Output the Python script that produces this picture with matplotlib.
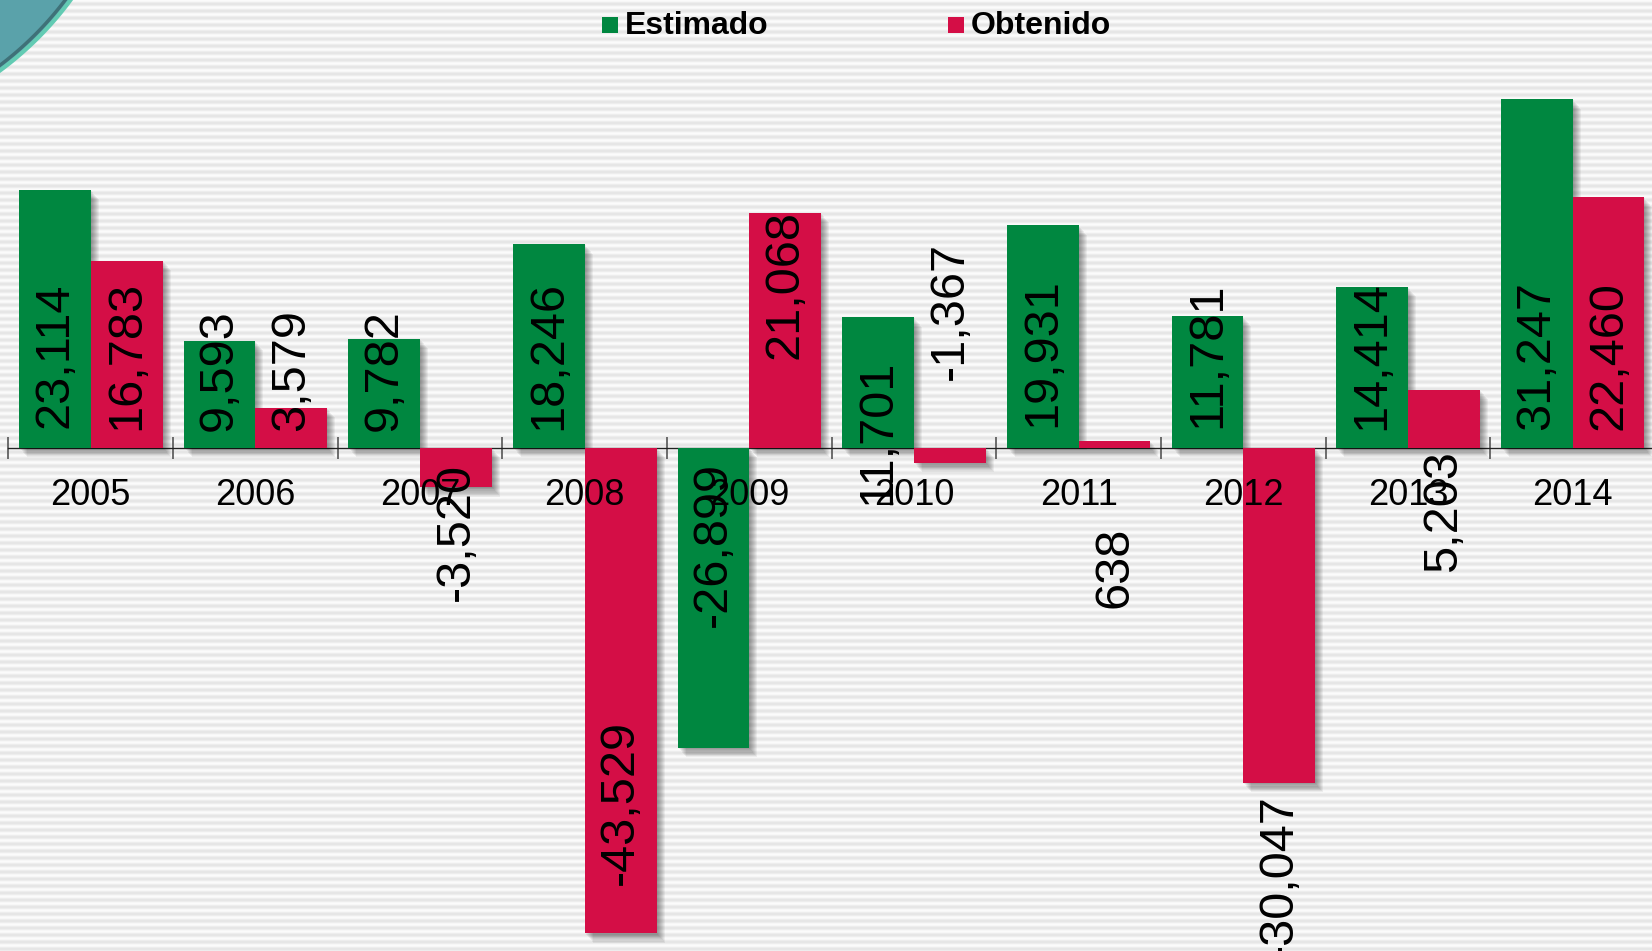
import numpy as np
import matplotlib.pyplot as plt
import matplotlib.patheffects as pe
from matplotlib.patches import Rectangle, Polygon
from matplotlib.transforms import offset_copy

plt.rcParams['font.family'] = ['Liberation Sans', 'DejaVu Sans']

years = ['2005', '2006', '2007', '2008', '2009',
         '2010', '2011', '2012', '2013', '2014']
estimado = [23114, 9593, 9782, 18246, -26899, 11701, 19931, 11781, 14414, 31247]
obtenido = [16783, 3579, -3520, -43529, 21068, -1367, 638, -30047, 5203, 22460]

# where each value label sits (centre, in data units)
estimado_label_y = [8300, 7000, 7000, 8300, -8700, 1400, 8500, 8300, 8300, 8300]
obtenido_label_y = [8300, 7000, -7550, -31800, 14600, 12300, -10700, -38400,
                    -5700, 8300]

GREEN = '#008740'
RED = '#D40E46'
W, H = 1652, 951

fig = plt.figure(figsize=(W / 100, H / 100), dpi=100)


def fx(px):
    return px / W


def fy(py):
    return 1 - py / H


# striped backdrop
bg = fig.add_axes([0, 0, 1, 1], zorder=0)
rows = np.arange(H)
shade = 0.5 + 0.5 * np.cos(2 * np.pi * rows / 7.0)
level = 0.9 + 0.085 * shade
img = np.repeat(level[:, None, None], 3, axis=2) * np.ones((H, 2, 3))
bg.imshow(img, aspect='auto', interpolation='bilinear', extent=(0, 1, 0, 1))
bg.set_axis_off()

# teal corner swoosh
cx, cy, r = -200, -200, 335
theta = np.radians(np.linspace(25, 65, 80))
arc_x = cx + r * np.cos(theta)
arc_y = cy + r * np.sin(theta)
poly = [(fx(x), fy(y)) for x, y in zip(arc_x, arc_y)] + [(fx(-60), fy(-60))]
fig.patches.append(Polygon(poly, closed=True, transform=fig.transFigure,
                           facecolor='#5aa2aa', edgecolor='none', zorder=1))
fig.lines.append(plt.Line2D(fx(arc_x - 2), fy(arc_y - 2), transform=fig.transFigure,
                            color='#3f7178', lw=2.5, zorder=2))
fig.lines.append(plt.Line2D(fx(arc_x + 1), fy(arc_y + 1), transform=fig.transFigure,
                            color='#62cbb3', lw=3, zorder=2))

# main chart
left, right = 8.4, 1655
ax = fig.add_axes([fx(left), 0, (right - left) / W, 1], zorder=3)
ax.patch.set_alpha(0)
zero_px = 447.8
px_per_unit = 0.011155
ax.set_xlim(0, len(years))
ax.set_ylim(-(H - zero_px) / px_per_unit, zero_px / px_per_unit)

for side in ['top', 'left', 'right']:
    ax.spines[side].set_visible(False)
ax.spines['bottom'].set_position(('data', 0))
ax.spines['bottom'].set_color('#222222')
ax.spines['bottom'].set_linewidth(1.0)
ax.yaxis.set_visible(False)
ax.set_xticks(np.arange(len(years) + 1))
ax.set_xticklabels([])
ax.tick_params(axis='x', direction='inout', length=15.8, width=1.2,
               color='#555555')

shadow = [pe.SimplePatchShadow(offset=(o * 0.72, -o * 0.85),
                               shadow_rgbFace='black', alpha=0.055)
          for o in range(1, 9)] + [pe.Normal()]

x = np.arange(len(years)) + 0.5
bw = 0.436
bars_e = ax.bar(x - bw / 2, estimado, bw, color=GREEN, zorder=3)
bars_o = ax.bar(x + bw / 2, obtenido, bw, color=RED, zorder=3)
for b in list(bars_e) + list(bars_o):
    b.set_path_effects(shadow)

for xi, v, ly in zip(x - bw / 2, estimado, estimado_label_y):
    ax.text(xi, ly, f'{v:,}', rotation=90, ha='center', va='center',
            fontsize=35, color='black', zorder=6)
for xi, v, ly in zip(x + bw / 2, obtenido, obtenido_label_y):
    ax.text(xi, ly, f'{v:,}', rotation=90, ha='center', va='center',
            fontsize=35, color='black', zorder=6)

below = offset_copy(ax.transData, fig=fig, y=-48, units='dots')
for xi, year in zip(x, years):
    ax.text(xi, 0, year, transform=below, ha='center', va='center',
            fontsize=26, color='black', zorder=5)

# legend along the top
for sq_x, txt_x, color, name in [(602, 625, GREEN, 'Estimado'),
                                 (948, 971, RED, 'Obtenido')]:
    fig.patches.append(Rectangle((fx(sq_x), fy(33)), 16 / W, 16 / H,
                                 transform=fig.transFigure, facecolor=color,
                                 edgecolor='none', zorder=4))
    fig.text(fx(txt_x), fy(26), name, ha='left', va='center', fontsize=23,
             fontweight='bold', color='black', zorder=4)

fig.savefig('out.png', dpi=100)
